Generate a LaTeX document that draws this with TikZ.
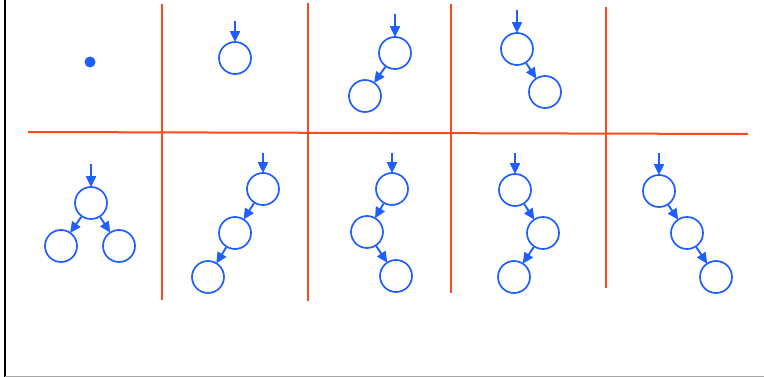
\documentclass[tikz,border=0pt]{standalone}
\usetikzlibrary{arrows.meta}
\definecolor{rline}{HTML}{FF4A1C}
\definecolor{bnode}{HTML}{1F5FFF}
\begin{document}
\begin{tikzpicture}[x=1pt,y=-1pt,
  tnode/.style={circle,draw=bnode,line width=1.7pt,minimum size=32pt,inner sep=0pt},
  link/.style={draw=bnode,line width=1.9pt,shorten >=-1pt,-{Triangle[length=11pt,width=10pt]}},
  grid/.style={draw=rline,line width=2pt}]
\useasboundingbox (0,0) rectangle (764,377);
\draw[black,line width=2.2pt] (5,0) -- (5,377);
\draw[gray!70,line width=1pt] (5,376.5) -- (764,376.5);
% grid
\draw[grid] (28,132) -- (748,134);
\draw[grid] (162,4) -- (162,300);
\draw[grid] (308,3) -- (308,301);
\draw[grid] (451,4) -- (451,293);
\draw[grid] (606,7) -- (606,288);
% cell 1 top
\fill[bnode] (90,62) circle (5.5pt);
% cell 2 top
\node[tnode] (a1) at (235,58) {};
\coordinate (a0) at (235,21);
\draw[link] (a0) -- (a1);
% cell 3 top
\node[tnode] (b1) at (395,53) {};
\node[tnode] (b2) at (365,96) {};
\coordinate (b0) at (395,14);
\draw[link] (b0) -- (b1);
\draw[link] (b1) -- (b2);
% cell 4 top
\node[tnode] (c1) at (517,49) {};
\node[tnode] (c2) at (545,92) {};
\coordinate (c0) at (517,10);
\draw[link] (c0) -- (c1);
\draw[link] (c1) -- (c2);
% bottom 1
\node[tnode] (d1) at (91,203) {};
\node[tnode] (d2) at (61,246) {};
\node[tnode] (d3) at (119,246) {};
\coordinate (d0) at (91,164);
\draw[link] (d0) -- (d1);
\draw[link] (d1) -- (d2);
\draw[link] (d1) -- (d3);
% bottom 2
\node[tnode] (e1) at (263,189) {};
\node[tnode] (e2) at (235,233) {};
\node[tnode] (e3) at (208,277) {};
\coordinate (e0) at (263,153);
\draw[link] (e0) -- (e1);
\draw[link] (e1) -- (e2);
\draw[link] (e2) -- (e3);
% bottom 3
\node[tnode] (f1) at (392,189) {};
\node[tnode] (f2) at (367,232) {};
\node[tnode] (f3) at (396,276) {};
\coordinate (f0) at (392,153);
\draw[link] (f0) -- (f1);
\draw[link] (f1) -- (f2);
\draw[link] (f2) -- (f3);
% bottom 4
\node[tnode] (g1) at (515,190) {};
\node[tnode] (g2) at (543,233) {};
\node[tnode] (g3) at (514,277) {};
\coordinate (g0) at (515,153);
\draw[link] (g0) -- (g1);
\draw[link] (g1) -- (g2);
\draw[link] (g2) -- (g3);
% bottom 5
\node[tnode] (h1) at (659,191) {};
\node[tnode] (h2) at (687,233) {};
\node[tnode] (h3) at (716,277) {};
\coordinate (h0) at (659,153);
\draw[link] (h0) -- (h1);
\draw[link] (h1) -- (h2);
\draw[link] (h2) -- (h3);
\end{tikzpicture}
\end{document}
